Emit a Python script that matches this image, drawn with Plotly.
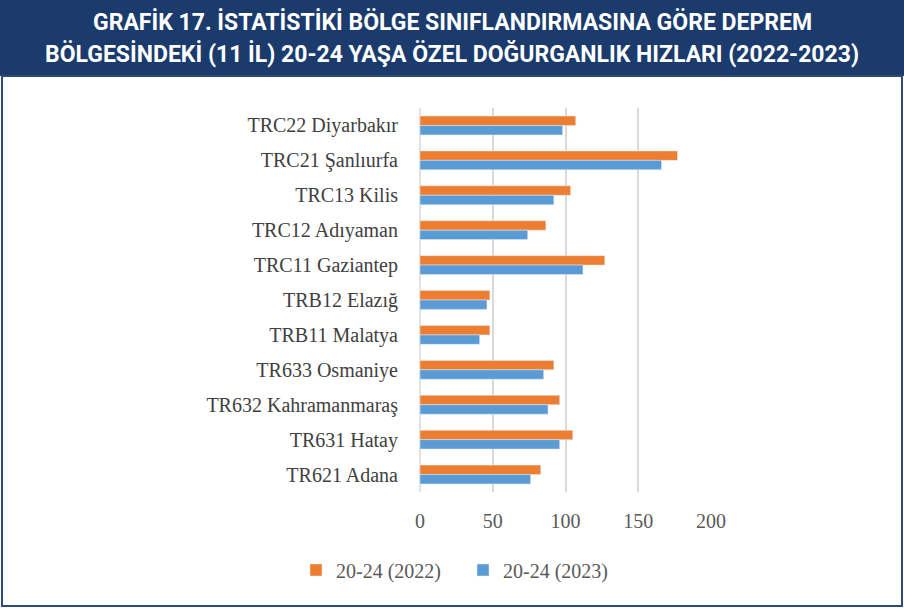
import plotly.graph_objects as go

categories = ["TRC22 Diyarbakır", "TRC21 Şanlıurfa", "TRC13 Kilis", "TRC12 Adıyaman",
              "TRC11 Gaziantep", "TRB12 Elazığ", "TRB11 Malatya", "TR633 Osmaniye",
              "TR632 Kahramanmaraş", "TR631 Hatay", "TR621 Adana"]
values_2022 = [107, 177, 103.5, 86.5, 127, 48, 48, 92, 96, 105, 83]
values_2023 = [98, 166, 92, 74, 112, 46, 41, 85, 88, 96, 76]
series_names = ["20-24 (2022)", "20-24 (2023)"]
title_lines = ["GRAFİK 17. İSTATİSTİKİ BÖLGE SINIFLANDIRMASINA GÖRE DEPREM",
               "BÖLGESİNDEKİ (11 İL) 20-24 YAŞA ÖZEL DOĞURGANLIK HIZLARI (2022-2023)"]

W, H = 904, 609
L, R, T, B = 420, 711, 108, 492

def px(x):
    return (x - L) / (R - L)

def py(y):
    return (B - y) / (B - T)

fig = go.Figure()
fig.add_trace(go.Bar(y=categories, x=values_2022, name=series_names[0], orientation="h",
                     marker=dict(color="#ed7d31")))
fig.add_trace(go.Bar(y=categories, x=values_2023, name=series_names[1], orientation="h",
                     marker=dict(color="#5b9bd5")))

serif = "Liberation Serif, Times New Roman, serif"
fig.update_layout(
    width=W, height=H,
    margin=dict(l=L, r=W - R, t=T, b=H - B, pad=0),
    paper_bgcolor="white", plot_bgcolor="white",
    barmode="group", bargap=0.46, bargroupgap=0,
    showlegend=True,
    legend=dict(orientation="h", x=px(296), xanchor="left", y=py(570), yanchor="middle",
                font=dict(family=serif, size=20, color="#595959"),
                entrywidth=122, entrywidthmode="pixels",
                traceorder="normal", bgcolor="rgba(0,0,0,0)"),
    xaxis=dict(range=[0, 200], tickvals=[0, 50, 100, 150, 200], showgrid=True,
               gridcolor="#d9d9d9", gridwidth=1.5, zeroline=False, showline=False,
               ticks="", ticklabelstandoff=15,
               tickfont=dict(family=serif, size=20, color="#595959")),
    yaxis=dict(autorange="reversed", showgrid=False, zeroline=False, showline=False,
               ticks="", ticklabelstandoff=21,
               tickfont=dict(family=serif, size=20, color="#404040")),
    shapes=[
        dict(type="rect", xref="paper", yref="paper", x0=px(0), x1=px(W), y0=py(76), y1=py(0),
             fillcolor="#1b3b6d", line=dict(width=0), layer="below"),
        dict(type="rect", xref="paper", yref="paper", x0=px(2), x1=px(902), y0=py(606), y1=py(76),
             fillcolor="rgba(0,0,0,0)", line=dict(color="#2e4a78", width=2), layer="below"),
        dict(type="line", xref="paper", yref="paper", x0=0, x1=0, y0=0, y1=1,
             line=dict(color="#d9d9d9", width=1.5), layer="below"),
    ],
    annotations=[
        dict(text=title_lines[0], xref="paper", yref="paper", x=px(452), y=py(22),
             xanchor="center", yanchor="middle", showarrow=False,
             font=dict(family="Roboto", size=23, color="white", weight="bold")),
        dict(text=title_lines[1], xref="paper", yref="paper", x=px(452), y=py(54),
             xanchor="center", yanchor="middle", showarrow=False,
             font=dict(family="Roboto", size=23, color="white", weight="bold")),
    ],
)

fig.write_html("out.html", config={"displayModeBar": False},
               post_script="document.body.style.margin='0';")
